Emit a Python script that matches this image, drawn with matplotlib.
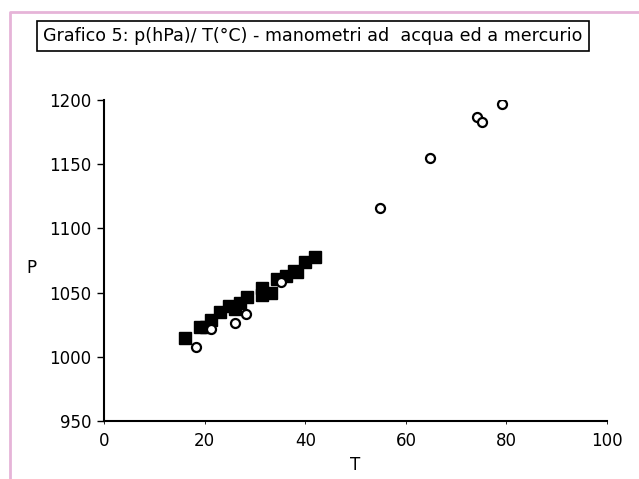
import numpy as np
import matplotlib
matplotlib.use('Agg')
import matplotlib.pyplot as plt
from matplotlib.lines import Line2D

# manometro a mercurio (quadrati pieni)
tMerc = [16.0, 19.0, 20.3, 21.3, 23.1, 24.9, 26.1, 27.1, 28.4, 31.3, 31.3, 33.1,
         34.4, 36.1, 37.7, 38.4, 40.0, 42.0]
pMerc = [1015, 1023, 1023, 1029, 1035, 1040, 1037, 1042, 1047, 1054, 1048, 1050,
         1061, 1063, 1067, 1066, 1074, 1078]

# manometro ad acqua (cerchi vuoti)
tAcqua = [18.2, 21.3, 26.1, 28.3, 35.1, 54.8, 64.7, 74.1, 75.1, 79.1]
pAcqua = [1008, 1022, 1026, 1033, 1058, 1116, 1155, 1187, 1183, 1197]

xTicks = [0, 20, 40, 60, 80, 100]
yTicks = [950, 1000, 1050, 1100, 1150, 1200]


def main():
    fig = plt.figure(figsize=(6.39, 4.79), dpi=100)
    ax = fig.add_axes([0.163, 0.121, 0.787, 0.670])

    ax.plot(tMerc, pMerc, 's', color='black', markersize=8, linestyle='none')
    ax.plot(tAcqua, pAcqua, 'o', markerfacecolor='white', markeredgecolor='black',
            markeredgewidth=1.6, markersize=6.5, linestyle='none')

    ax.set_xlim(0, 100)
    ax.set_ylim(950, 1200)
    ax.set_xticks(xTicks)
    ax.set_yticks(yTicks)
    ax.spines['top'].set_visible(False)
    ax.spines['right'].set_visible(False)
    ax.spines['left'].set_linewidth(1.5)
    ax.spines['bottom'].set_linewidth(1.5)
    ax.tick_params(axis='y', length=5, width=1, labelsize=12, pad=4)
    ax.tick_params(axis='x', length=2, width=0.6, labelsize=12, pad=6)
    ax.set_xlabel('T', fontsize=12, labelpad=4)
    ax.set_ylabel('P', fontsize=12, rotation=0)
    ax.yaxis.set_label_coords(-0.145, 0.45)

    # riquadro del titolo
    fig.text(0.49, 0.925, 'Grafico 5: p(hPa)/ T(°C) - manometri ad  acqua ed a mercurio',
             ha='center', va='center', fontsize=12.6,
             bbox=dict(boxstyle='square,pad=0.35', facecolor='white', edgecolor='black', linewidth=1.2))

    # cornice rosa
    fig.add_artist(Line2D([10 / 639, 10 / 639, 1.0], [0.0, 1 - 12 / 479, 1 - 12 / 479],
                          transform=fig.transFigure, color='#e6b4d8', linewidth=2))

    plt.savefig('out.png', dpi=100)
    plt.close()


if __name__ == '__main__':
    main()
